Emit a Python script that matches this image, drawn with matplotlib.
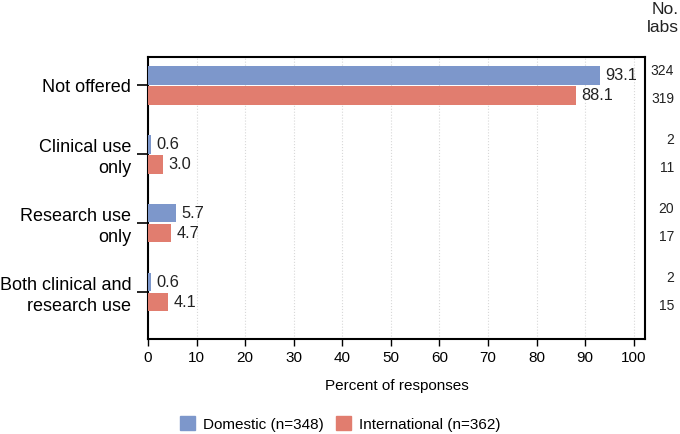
import matplotlib
matplotlib.use("Agg")
import matplotlib.pyplot as plt
import matplotlib.transforms as mtransforms
import numpy as np
from matplotlib.patches import Patch

plt.rcParams['font.family'] = ['Liberation Sans', 'DejaVu Sans']

categories = ["Not offered", "Clinical use\nonly", "Research use\nonly", "Both clinical and\nresearch use"]
domestic = [93.1, 0.6, 5.7, 0.6]
international = [88.1, 3.0, 4.7, 4.1]
dom_labs = [324, 2, 20, 2]
int_labs = [319, 11, 17, 15]
xticks = [0, 10, 20, 30, 40, 50, 60, 70, 80, 90, 100]

blue = "#7d97cb"
red = "#e17d6f"

fig = plt.figure(figsize=(6.8, 4.34), dpi=100)
ax = fig.add_axes([148/680, 1-339/434, (645-148)/680, (339-57)/434])

y = np.arange(len(categories))
h = 0.27
off = 0.145
ax.barh(y - off, domestic, height=h, color=blue, zorder=3)
ax.barh(y + off, international, height=h, color=red, zorder=3)

for yi, d, i in zip(y, domestic, international):
    ax.text(d + 1.1, yi - off, f"{d:.1f}", va='center', ha='left', fontsize=11.8, color='#222222')
    ax.text(i + 1.1, yi + off, f"{i:.1f}", va='center', ha='left', fontsize=11.8, color='#222222')

rx = 674/680
loff = 0.2
tr = mtransforms.blended_transform_factory(fig.transFigure, ax.transData)
for yi, dl, il in zip(y, dom_labs, int_labs):
    ax.text(rx, yi - loff, str(dl), transform=tr, va='center', ha='right', fontsize=10, color='#222222')
    ax.text(rx, yi + loff, str(il), transform=tr, va='center', ha='right', fontsize=10, color='#222222')

fig.text(679/680, 1-19/434, "No.\nlabs", ha='right', va='center', fontsize=12.5, color='#222222',
         linespacing=1.25, multialignment='right')

ax.set_xlim(0, 102.3)
ax.set_ylim(3.68, -0.41)
ax.set_xticks(xticks)
ax.set_xticklabels([str(t) for t in xticks], fontsize=11)
ax.set_yticks(y)
ax.set_yticklabels(categories, fontsize=13, linespacing=1.3)
ax.tick_params(axis='y', length=8, width=1.2, pad=4)
ax.tick_params(axis='x', length=5, width=1.0)
ax.grid(axis='x', color='#d8d8d8', linestyle=':', linewidth=0.8, zorder=0)
for s in ax.spines.values():
    s.set_linewidth(1.5)
    s.set_color('black')

ax.set_xlabel("Percent of responses", fontsize=11, labelpad=10)

handles = [Patch(color=blue, label="Domestic (n=348)"), Patch(color=red, label="International (n=362)")]
fig.legend(handles=handles, loc='center', bbox_to_anchor=(0.5, 1-424/434), ncol=2, frameon=False,
           fontsize=11, handlelength=1.0, handleheight=1.0, handletextpad=0.5, columnspacing=0.8)

fig.savefig("out.png", dpi=100)
